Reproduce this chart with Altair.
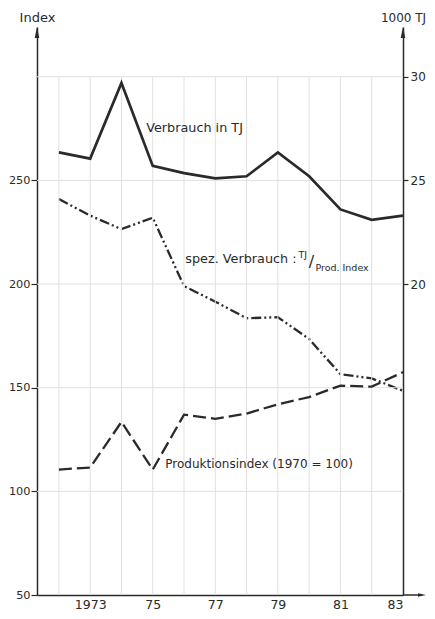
import altair as alt
import pandas as pd

years = [1972, 1973, 1974, 1975, 1976, 1977, 1978, 1979, 1980, 1981, 1982, 1983]
verbrauch_1000tj = [26.35, 26.05, 29.7, 25.7, 25.35, 25.1, 25.2, 26.35, 25.2, 23.6, 23.1, 23.3]
spez_verbrauch = [241, 233, 226.5, 232, 199, 191.5, 183.5, 184, 173.5, 156.5, 154.5, 148.5]
produktionsindex = [110.5, 111.5, 133.5, 110.5, 137, 135, 137.5, 142, 145.5, 151, 150.5, 157.5]

x_tick_years = [1973, 1975, 1977, 1979, 1981, 1983]
left_ticks = [50, 100, 150, 200, 250]
right_ticks = [20, 25, 30]
grid_years = [1972, 1973, 1974, 1975, 1976, 1977, 1978, 1979, 1980, 1981, 1982]
grid_index = [100, 150, 200, 250, 300]

FONT = "DejaVu Sans"
INK = "#2a2a2a"
GRID = "#e0e0e0"

W, H = 366, 568
XDOM = [1971.3, 1983]
LDOM = [50, 324]
RDOM = [5, 32.4]

df = pd.DataFrame({"year": years, "verbrauch": verbrauch_1000tj,
                   "spez": spez_verbrauch, "prod": produktionsindex})

seg_rows = [{"sx1": g, "sx2": g, "sy1": 50, "sy2": 300} for g in grid_years]
seg_rows += [{"sx1": XDOM[0], "sx2": 1983, "sy1": g, "sy2": g} for g in grid_index]
grid_df = pd.DataFrame(seg_rows)

xs = alt.Scale(domain=XDOM, nice=False, zero=False)
ls = alt.Scale(domain=LDOM, nice=False, zero=False)
rs = alt.Scale(domain=RDOM, nice=False, zero=False)

xaxis = alt.Axis(orient="bottom", values=x_tick_years, grid=False, title=None,
                 labelExpr="datum.value == 1973 ? '1973' : substring(toString(datum.value), 2)",
                 domainColor=INK, domainWidth=1.5, ticks=False, labelPadding=3,
                 labelFont=FONT, labelFontSize=12.5, labelColor=INK)
yaxis = alt.Axis(values=left_ticks, grid=False, title="Index",
                 titleAngle=0, titleX=0, titleY=-3, titleAlign="center", titleBaseline="bottom",
                 titleFont=FONT, titleFontSize=13, titleFontWeight="normal", titleColor=INK,
                 domainColor=INK, domainWidth=1.5, tickColor=INK, tickSize=6, tickWidth=1.2,
                 labelPadding=1, labelFont=FONT, labelFontSize=11.3, labelColor=INK)
raxis = alt.Axis(orient="right", values=right_ticks, grid=False, title="1000 TJ",
                 titleAngle=0, titleX=0, titleY=-3, titleAlign="center", titleBaseline="bottom",
                 titleFont=FONT, titleFontSize=12, titleFontWeight="normal", titleColor=INK,
                 domainColor=INK, domainWidth=1.5, tickColor=INK, tickSize=5, tickWidth=1.2,
                 labelPadding=2, labelFont=FONT, labelFontSize=12, labelColor=INK)

def X(field):
    return alt.X(field, scale=xs, axis=xaxis)

def YL(field, axis=None):
    return alt.Y(field, scale=ls, axis=axis)

spez_line = alt.Chart(df).mark_line(color=INK, strokeWidth=2.3,
                                    strokeDash=[10, 3, 2, 3, 2, 3]).encode(
    x=X("year:Q"), y=YL("spez:Q", yaxis))

grid = alt.Chart(grid_df).mark_rule(color=GRID, strokeWidth=1).encode(
    x=X("sx1:Q"), x2=alt.X2("sx2:Q"), y=YL("sy1:Q"), y2=alt.Y2("sy2:Q"))

prod_line = alt.Chart(df).mark_line(color=INK, strokeWidth=2.3,
                                    strokeDash=[13, 5]).encode(
    x=X("year:Q"), y=YL("prod:Q"))

verb_line = alt.Chart(df).mark_line(color=INK, strokeWidth=2.7).encode(
    x=X("year:Q"), y=alt.Y("verbrauch:Q", scale=rs, axis=raxis))

ann = pd.DataFrame({
    "ax": [1974.79, 1976.04],
    "ay": [275.5, 211.9],
    "txt": ["Verbrauch in TJ", "spez. Verbrauch :"],
})
ann_text = alt.Chart(ann).mark_text(align="left", baseline="middle", font=FONT,
                                    fontSize=12.8, color=INK).encode(
    x=X("ax:Q"), y=YL("ay:Q"), text="txt:N")
ann2 = pd.DataFrame({"ax": [1975.4], "ay": [113.0], "txt": ["Produktionsindex (1970 = 100)"]})
ann2_text = alt.Chart(ann2).mark_text(align="left", baseline="middle", font=FONT,
                                      fontSize=12, color=INK).encode(
    x=X("ax:Q"), y=YL("ay:Q"), text="txt:N")
small = pd.DataFrame({"ax": [1979.66, 1980.2], "ay": [214.0, 207.6],
                      "txt": ["TJ", "Prod. Index"]})
small_text = alt.Chart(small).mark_text(align="left", baseline="middle", font=FONT,
                                        fontSize=9.5, color=INK).encode(
    x=X("ax:Q"), y=YL("ay:Q"), text="txt:N")
slash = pd.DataFrame({"ax": [1980.07], "ay": [210.4], "txt": ["/"]})
slash_text = alt.Chart(slash).mark_text(align="center", baseline="middle", font=FONT,
                                        fontSize=16, color=INK).encode(
    x=X("ax:Q"), y=YL("ay:Q"), text="txt:N")

# axis arrowheads (decoration, pixel positions)
UP = "M0,-1L0.42,1L-0.42,1Z"
RIGHT = "M1,0L-1,-0.42L-1,0.42Z"
one = pd.DataFrame({"k": [0]})
arrow_left = alt.Chart(one).mark_point(
    shape=UP, filled=True, color=INK, size=121, opacity=1).encode(
    x=alt.value(0), y=alt.value(5.5))
arrow_rightaxis = alt.Chart(one).mark_point(
    shape=UP, filled=True, color=INK, size=121, opacity=1).encode(
    x=alt.value(W), y=alt.value(5.5))
x_ext = alt.Chart(one).mark_rule(color=INK, strokeWidth=1.5).encode(
    x=alt.value(W), x2=alt.value(W + 17), y=alt.value(H))
arrow_x = alt.Chart(one).mark_point(
    shape=RIGHT, filled=True, color=INK, size=64, opacity=1).encode(
    x=alt.value(W + 19), y=alt.value(H))

chart = alt.layer(
    spez_line, grid, prod_line, ann_text, ann2_text, small_text, slash_text,
    verb_line, arrow_left, arrow_rightaxis, x_ext, arrow_x,
).resolve_scale(y="independent").properties(
    width=W, height=H,
    autosize=alt.AutoSizeParams(type="none"),
    padding={"left": 29, "top": 19, "right": 24, "bottom": 16},
).configure_view(stroke=None)

chart.save("out.html", embed_options={"renderer": "svg", "actions": False})
